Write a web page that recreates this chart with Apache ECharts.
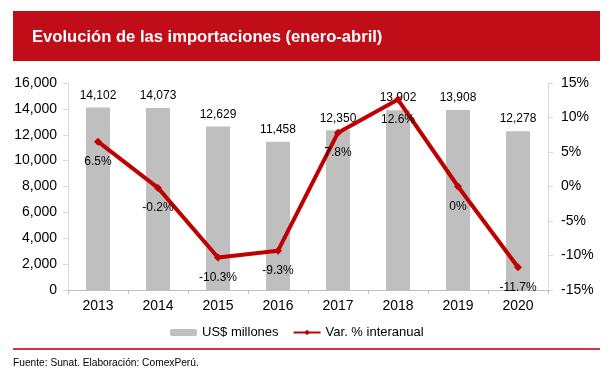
<!DOCTYPE html>
<html>
<head>
<meta charset="utf-8">
<script src="https://cdn.jsdelivr.net/npm/echarts@6/dist/echarts.min.js"></script>
<style>html,body{margin:0;padding:0;background:#fff}#c{width:611px;height:381px}</style>
</head>
<body>
<div id="c"></div>
<script>
const years = ['2013','2014','2015','2016','2017','2018','2019','2020'];
const importsUSD = [14102, 14073, 12629, 11458, 12350, 13902, 13908, 12278];
const varPct = [6.5, -0.2, -10.3, -9.3, 7.8, 12.6, 0, -11.7];
const varLabels = ['6.5%','-0.2%','-10.3%','-9.3%','7.8%','12.6%','0%','-11.7%'];
const titleText = 'Evolución de las importaciones (enero-abril)';
const sourceText = 'Fuente: Sunat. Elaboración: ComexPerú.';

const font = '"Liberation Sans", Arial, sans-serif';
const chart = echarts.init(document.getElementById('c'), null, {renderer: 'canvas'});
chart.setOption({
  animation: false,
  backgroundColor: '#fff',
  textStyle: {fontFamily: font},
  graphic: [
    {type: 'rect', shape: {x: 13, y: 11, width: 587, height: 50}, style: {fill: '#C00D17'}},
    {type: 'text', x: 32, y: 37, style: {text: titleText, fill: '#fff', font: 'bold 16.6px ' + font, textVerticalAlign: 'middle', verticalAlign: 'middle'}},
    {type: 'rect', shape: {x: 13, y: 348, width: 587, height: 2}, style: {fill: '#D8323C'}},
    {type: 'text', x: 13, y: 363, style: {text: sourceText, fill: '#000', font: '10.2px ' + font, textVerticalAlign: 'middle', verticalAlign: 'middle'}}
  ],
  legend: {
    left: 165, top: 321,
    itemWidth: 27, itemHeight: 7, itemGap: 14,
    textStyle: {fontSize: 13, color: '#000', fontFamily: font},
    data: ['US$ millones', 'Var. % interanual']
  },
  grid: {left: 68, right: 63, top: 83, bottom: 91, containLabel: false},
  xAxis: {
    type: 'category', data: years,
    axisLine: {lineStyle: {color: '#BFBFBF'}},
    axisTick: {show: true, length: 4, lineStyle: {color: '#BFBFBF'}},
    axisLabel: {fontSize: 14, color: '#000', margin: 9, fontFamily: font}
  },
  yAxis: [
    {
      type: 'value', min: 0, max: 16000, interval: 2000,
      axisLine: {show: true, lineStyle: {color: '#D9D9D9'}},
      axisTick: {show: true, length: 5, lineStyle: {color: '#D9D9D9'}},
      splitLine: {show: false},
      axisLabel: {fontSize: 14, color: '#000', margin: 11, fontFamily: font,
        formatter: v => v.toLocaleString('en-US')}
    },
    {
      type: 'value', min: -15, max: 15, interval: 5, position: 'right',
      axisLine: {show: true, lineStyle: {color: '#D9D9D9'}},
      axisTick: {show: true, length: 5, lineStyle: {color: '#D9D9D9'}},
      splitLine: {show: false},
      axisLabel: {fontSize: 14, color: '#000', margin: 13, fontFamily: font,
        formatter: v => v + '%'}
    }
  ],
  series: [
    {
      name: 'US$ millones', type: 'bar', data: importsUSD, yAxisIndex: 0,
      barWidth: 24,
      itemStyle: {color: '#BFBFBF'},
      label: {show: true, position: 'top', distance: 6, fontSize: 12, color: '#000',
        fontFamily: font, formatter: p => p.value.toLocaleString('en-US')}
    },
    {
      name: 'Var. % interanual', type: 'line', data: varPct, yAxisIndex: 1,
      symbol: 'diamond', symbolSize: 8,
      lineStyle: {color: '#C00000', width: 4},
      itemStyle: {color: '#C00000'},
      z: 3,
      label: {show: true, position: 'bottom', distance: 10, fontSize: 12, color: '#000',
        fontFamily: font, formatter: p => varLabels[p.dataIndex]}
    }
  ]
});
</script>
</body>
</html>
